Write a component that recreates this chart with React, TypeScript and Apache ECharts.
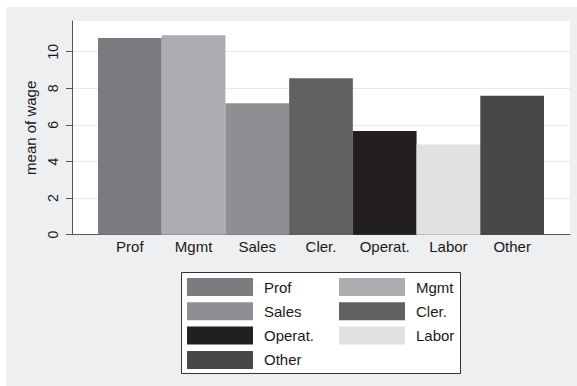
import React, { useEffect, useRef } from "react";
import * as echarts from "echarts";

const categories = ["Prof", "Mgmt", "Sales", "Cler.", "Operat.", "Labor", "Other"];
const meanWage = [10.75, 10.9, 7.18, 8.55, 5.67, 4.93, 7.6];
const barColors = ["#7a7b7f", "#abacaf", "#8e8f92", "#616163", "#231f20", "#e0e1e3", "#47484a"];
const yTicks = [0, 2, 4, 6, 8, 10];
const legendCol1 = ["Prof", "Sales", "Operat.", "Other"];
const legendCol2 = ["Mgmt", "Cler.", "Labor"];

const FONT = "'Liberation Sans', Arial, Helvetica, sans-serif";
const YMAX = 11.68;

export default function App() {
  const ref = useRef<HTMLDivElement>(null);
  useEffect(() => {
    if (!ref.current) return;
    const chart = echarts.init(ref.current, null, { renderer: "svg" });
    const series = categories.map((name, i) => ({
      name,
      type: "bar",
      xAxisIndex: 1,
      yAxisIndex: 1,
      barWidth: "100%",
      barGap: "-100%",
      itemStyle: { color: barColors[i] },
      data: categories.map((_, j) => (j === i ? meanWage[i] : "-")),
    }));
    const legendBase = {
      orient: "vertical",
      padding: 0,
      itemWidth: 66,
      itemHeight: 18,
      itemGap: 6.3,
      icon: "rect",
      selectedMode: false,
      textStyle: { fontFamily: FONT, fontSize: 15, color: "#1a1a1a", padding: [0, 0, 0, 6] },
    };
    chart.setOption({
      animation: false,
      textStyle: { fontFamily: FONT },
      graphic: [
        {
          type: "rect",
          z: -10,
          silent: true,
          shape: { x: 6, y: 7, width: 571, height: 379 },
          style: { fill: "#eeeff1" },
        },
        {
          type: "rect",
          z: 0,
          silent: true,
          shape: { x: 181.5, y: 272.5, width: 279, height: 101 },
          style: { fill: "#ffffff", stroke: "#333333", lineWidth: 1 },
        },
      ],
      grid: [
        {
          left: 72,
          right: 7,
          top: 21,
          bottom: 151.3,
          show: true,
          backgroundColor: "#ffffff",
          borderWidth: 0,
        },
        { left: 98, right: 33, top: 21, bottom: 151.3 },
      ],
      xAxis: [
        {
          type: "value",
          gridIndex: 0,
          min: 0,
          max: 1,
          axisLine: { show: true, lineStyle: { color: "#555555", width: 1 } },
          axisTick: { show: false },
          axisLabel: { show: false },
          splitLine: { show: false },
        },
        {
          type: "category",
          gridIndex: 1,
          data: categories,
          axisLine: { show: false },
          axisTick: { show: false },
          axisLabel: { interval: 0, fontFamily: FONT, fontSize: 15, color: "#1a1a1a", margin: 4 },
        },
      ],
      yAxis: [
        {
          type: "value",
          gridIndex: 0,
          min: 0,
          max: YMAX,
          interval: 2,
          name: "mean of wage",
          nameLocation: "middle",
          nameGap: 26,
          nameTextStyle: { fontFamily: FONT, fontSize: 15, color: "#1a1a1a" },
          axisLine: { show: true, lineStyle: { color: "#555555", width: 1 } },
          axisTick: { show: true, length: 6, customValues: yTicks, lineStyle: { color: "#555555" } },
          axisLabel: {
            rotate: 90,
            customValues: yTicks,
            fontFamily: FONT,
            fontSize: 14,
            color: "#1a1a1a",
            margin: 12,
          },
          splitLine: { show: true, lineStyle: { color: "#e6e8ea", width: 1 } },
        },
        {
          type: "value",
          gridIndex: 1,
          min: 0,
          max: YMAX,
          show: false,
        },
      ],
      legend: [
        { ...legendBase, left: 187, top: 278, data: legendCol1 },
        { ...legendBase, left: 339, top: 278, data: legendCol2 },
      ],
      series,
    });
    return () => chart.dispose();
  }, []);
  return (
    <div
      ref={ref}
      style={{ position: "fixed", left: 0, top: 0, width: 577, height: 386, background: "#ffffff" }}
    />
  );
}
